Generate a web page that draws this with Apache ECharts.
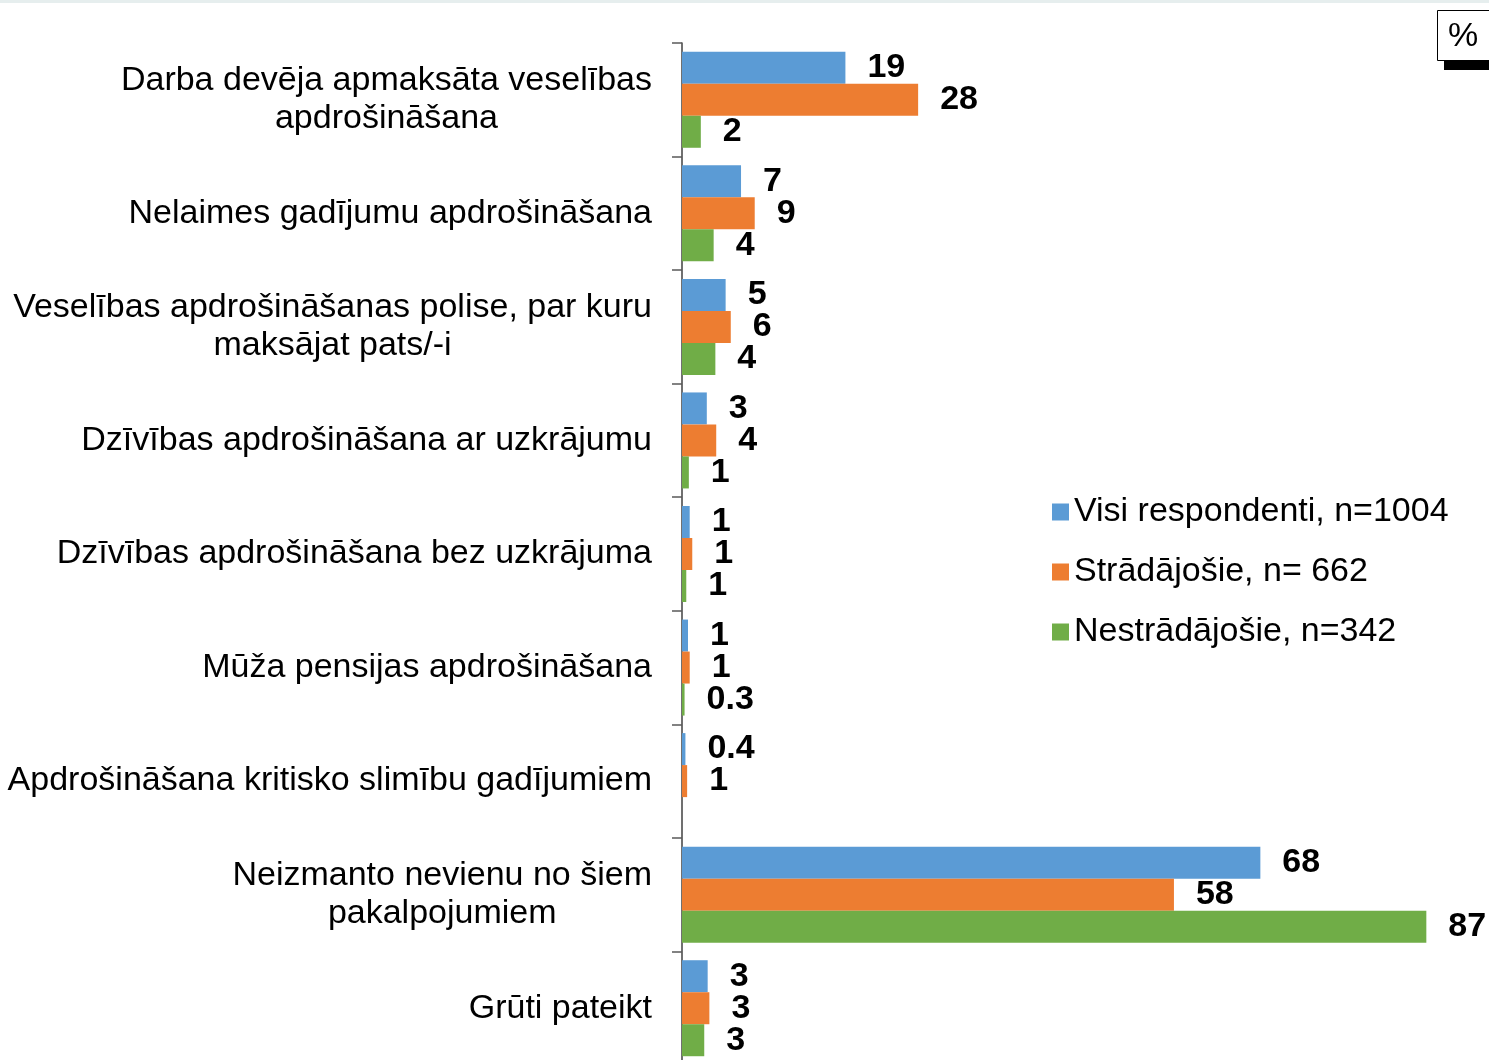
<!DOCTYPE html>
<html>
<head>
<meta charset="utf-8">
<script src="https://cdn.jsdelivr.net/npm/echarts@6/dist/echarts.min.js"></script>
<style>
  html, body { margin: 0; padding: 0; background: #fff; overflow: hidden; }
  #main { width: 1489px; height: 1080px; }
</style>
</head>
<body>
<div id="main"></div>
<script>
// kategorijas (no augšas uz leju)
var categories = [
    'Darba devēja apmaksāta veselības\napdrošināšana',
    'Nelaimes gadījumu apdrošināšana',
    'Veselības apdrošināšanas polise, par kuru\nmaksājat pats/-i',
    'Dzīvības apdrošināšana ar uzkrājumu',
    'Dzīvības apdrošināšana bez uzkrājuma',
    'Mūža pensijas apdrošināšana',
    'Apdrošināšana kritisko slimību gadījumiem',
    'Neizmanto nevienu no šiem\npakalpojumiem',
    'Grūti pateikt'
];
var seriesNames = ['Visi respondenti, n=1004', 'Strādājošie, n= 662', 'Nestrādājošie, n=342'];

// stabiņu garumi (nolasīti no attēla) un parakstītās vērtības
var visiValues   = [19.1, 6.9, 5.1, 2.9, 0.9, 0.7, 0.4, 67.6, 3.0];
var stradValues  = [27.6, 8.5, 5.7, 4.0, 1.2, 0.9, 0.6, 57.5, 3.2];
var nestrValues  = [2.2, 3.7, 3.9, 0.8, 0.5, 0.3, null, 87.0, 2.6];
var visiLabels   = ['19', '7', '5', '3', '1', '1', '0.4', '68', '3'];
var stradLabels  = ['28', '9', '6', '4', '1', '1', '1', '58', '3'];
var nestrLabels  = ['2', '4', '4', '1', '1', '0.3', '', '87', '3'];

var colors = ['#5B9BD5', '#ED7D31', '#70AD47'];
var FONT = '"Liberation Sans"';

function makeSeries(name, values, labels, color) {
    return {
        name: name,
        type: 'bar',
        barWidth: 32,
        barGap: '0%',
        itemStyle: { color: color },
        label: {
            show: true,
            position: 'right',
            distance: 22,
            color: '#000',
            fontFamily: FONT,
            fontWeight: 'bold',
            fontSize: 34,
            formatter: function (p) { return labels[p.dataIndex]; }
        },
        data: values
    };
}

// zīmējuma laukums ir nedaudz augstāks par logu, pēdējā kategorija iziet ārpus apakšmalas
var myChart = echarts.init(document.getElementById('main'));
myChart.setOption({
    animation: false,
    color: colors,
    grid: { left: 682, top: 43, width: 770, height: 1022 },
    legend: {
        orient: 'vertical',
        left: 1052,
        top: 495,
        padding: 0,
        itemWidth: 17,
        itemHeight: 17,
        itemGap: 26,
        icon: 'rect',
        textStyle: {
            fontFamily: FONT,
            fontSize: 34,
            lineHeight: 34,
            color: '#000'
        },
        data: seriesNames
    },
    xAxis: {
        type: 'value',
        min: 0,
        max: 90,
        show: false
    },
    yAxis: {
        type: 'category',
        inverse: true,
        data: categories,
        axisLine: { show: true, lineStyle: { color: '#404040', width: 1.5 } },
        axisTick: { show: true, length: 10, lineStyle: { color: '#595959', width: 1.5 } },
        axisLabel: {
            margin: 30,
            formatter: function (v) {
                return v.split('\n').map(function (s) { return '{a|' + s + '}'; }).join('\n');
            },
            rich: {
                a: {
                    fontFamily: FONT,
                    fontSize: 34,
                    lineHeight: 38,
                    color: '#000',
                    align: 'center'
                }
            }
        }
    },
    graphic: [
        { type: 'rect', shape: { x: 0, y: 0, width: 1489, height: 3 }, style: { fill: '#e6eeee' } },
        { type: 'rect', shape: { x: 1437.5, y: 10.5, width: 60, height: 50 }, style: { fill: '#fff', stroke: '#000', lineWidth: 1 } },
        { type: 'rect', shape: { x: 1444, y: 61, width: 50, height: 9 }, style: { fill: '#000' } },
        { type: 'text', x: 1463, y: 37, style: { text: '%', fill: '#000', fontSize: 34, fontFamily: FONT, align: 'center', verticalAlign: 'middle' } }
    ],
    series: [
        makeSeries(seriesNames[0], visiValues, visiLabels, colors[0]),
        makeSeries(seriesNames[1], stradValues, stradLabels, colors[1]),
        makeSeries(seriesNames[2], nestrValues, nestrLabels, colors[2])
    ]
});
</script>
</body>
</html>
